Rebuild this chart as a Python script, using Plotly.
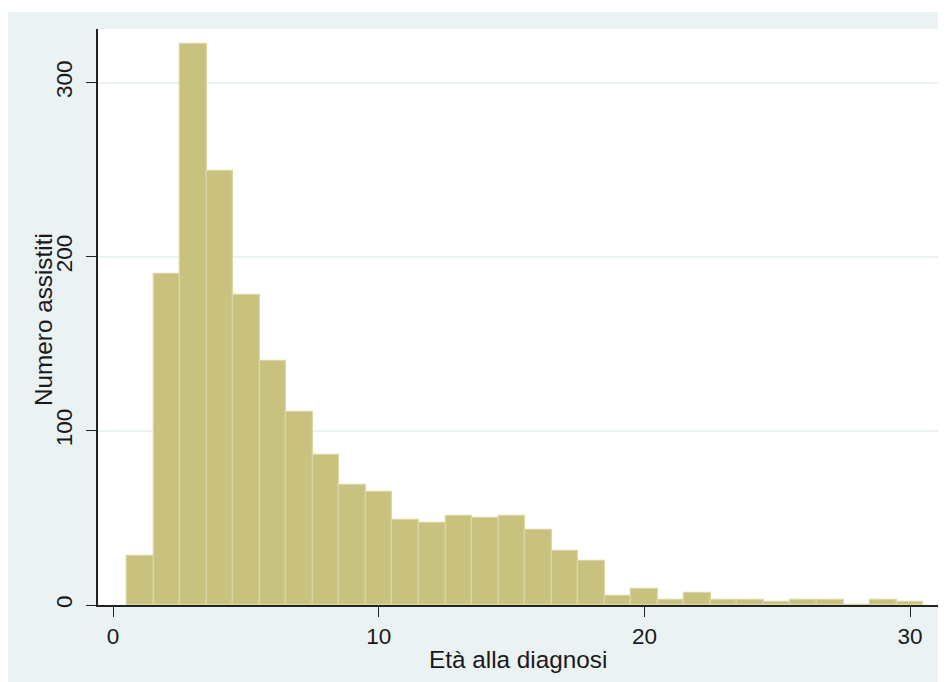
import plotly.graph_objects as go

# ---- data ----
bin_start = 0.53          # lower edge of the first bin (years)
bin_width = 0.9987        # bin width (years)
counts = [28, 190, 322, 249, 178, 140, 111, 86, 69, 65,
          49, 47, 51, 50, 51, 43, 31, 25, 5, 9,
          3, 7, 3, 3, 2, 3, 3, 0, 3, 2]
x_ticks = [0, 10, 20, 30]
y_ticks = [0, 100, 200, 300]
x_title = "Età alla diagnosi"
y_title = "Numero assistiti"

centers = [bin_start + bin_width * (i + 0.5) for i in range(len(counts))]

W, H = 960, 700
L, R, T, B = 90, 30, 21, 103
PW, PH = W - L - R, H - T - B
FONT = "Liberation Sans, Arial, Helvetica, sans-serif"
BG = "#EAF2F3"
TXT = "#1a1a1a"
TICK_SIZE = 22.5
TITLE_SIZE = 24.3

fig = go.Figure(
    go.Bar(
        x=centers,
        y=counts,
        width=[bin_width] * len(counts),
        marker=dict(color="#C9C27E", line=dict(color="#DAD5A3", width=1.3)),
        hoverinfo="x+y",
    )
)

fig.update_layout(
    width=W,
    height=H,
    margin=dict(l=L, r=R, t=T, b=B, pad=0),
    paper_bgcolor=BG,
    plot_bgcolor="white",
    showlegend=False,
    bargap=0,
    font=dict(family=FONT, color=TXT, size=TICK_SIZE),
    shapes=[
        # thin white strip along the top edge of the picture
        dict(type="rect", xref="paper", yref="paper",
             x0=-L / PW, x1=(W - L) / PW,
             y0=(PH + T - 4) / PH, y1=(PH + T) / PH,
             fillcolor="white", line=dict(width=0), layer="above"),
    ],
    annotations=[
        dict(text=x_title, xref="paper", yref="paper", x=0.5, y=0,
             xanchor="center", yanchor="middle", yshift=-54, showarrow=False,
             font=dict(size=TITLE_SIZE, family=FONT, color=TXT)),
        dict(text=y_title, xref="paper", yref="paper", x=0, y=0.5,
             xanchor="center", yanchor="middle", xshift=-54.5, yshift=-2.5,
             textangle=-90, showarrow=False,
             font=dict(size=TITLE_SIZE, family=FONT, color=TXT)),
    ],
)

fig.update_xaxes(
    range=[-0.565, 31.05],
    tickvals=x_ticks,
    ticks="outside",
    ticklen=10,
    tickwidth=1.3,
    tickcolor="#222",
    showline=True,
    linecolor="#222",
    linewidth=1.5,
    showgrid=False,
    zeroline=False,
    tickfont=dict(size=TICK_SIZE, family=FONT, color=TXT),
)

fig.update_yaxes(
    range=[0, 330.8],
    tickvals=y_ticks,
    ticks="outside",
    ticklen=10,
    tickwidth=1.3,
    tickcolor="#222",
    tickangle=-90,
    ticklabelstandoff=5,
    showline=True,
    linecolor="#222",
    linewidth=1.5,
    showgrid=True,
    gridcolor=BG,
    gridwidth=1.5,
    zeroline=False,
    tickfont=dict(size=TICK_SIZE, family=FONT, color=TXT),
)

fig.write_html("out.html", post_script="document.body.style.overflow='hidden';")
